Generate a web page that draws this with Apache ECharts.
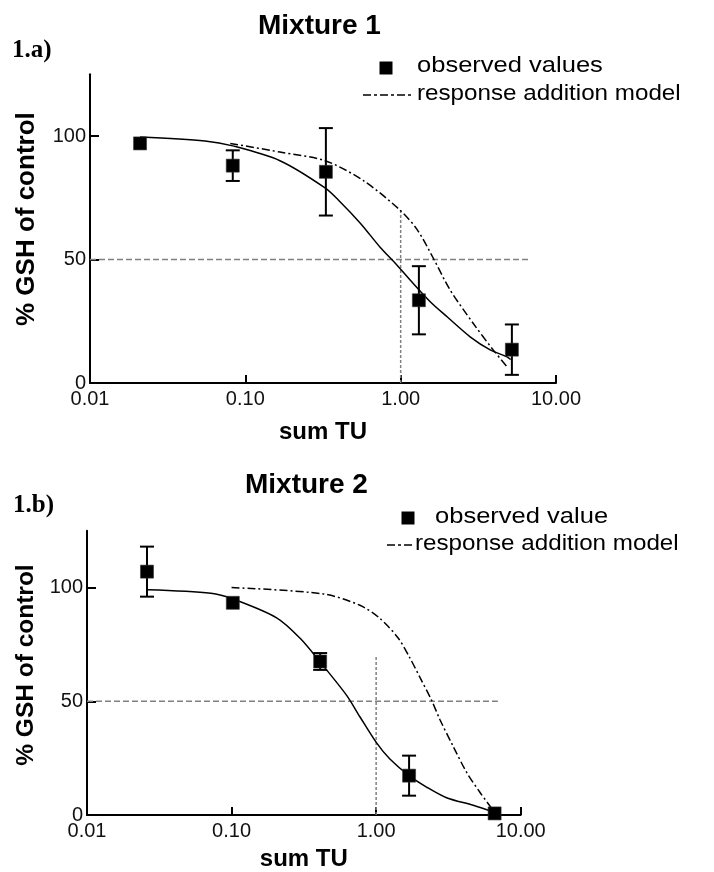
<!DOCTYPE html>
<html>
<head>
<meta charset="utf-8">
<title>GSH response of mixtures</title>
<script src="https://cdn.jsdelivr.net/npm/echarts@6/dist/echarts.min.js"></script>
<style>
  html, body { margin: 0; padding: 0; background: #fff; }
  #chart { width: 714px; height: 872px; }
</style>
</head>
<body>
<div id="chart"></div>
<script>
// ---- tick labels ----
const xTickLabels = ['0.01', '0.10', '1.00', '10.00'];
const yTickValues = [0, 50, 100];

// ---- Mixture 1: observed means with SD ----
const m1Dose = [0.021, 0.083, 0.33, 1.31, 5.2];
const m1Mean = [97, 88, 85.5, 33.5, 13.5];
const m1Sd   = [0, 6.2, 17.7, 13.8, 10.2];

// fitted concentration-response curve (sum TU, % of control)
const m1FitX = [0.021, 0.055, 0.083, 0.167, 0.326, 0.407, 0.548, 0.737, 0.92, 1.15, 1.55, 1.99, 2.8, 3.77, 4.84, 5.1];
const m1FitY = [99.6, 98, 96, 90, 79, 73.4, 64.8, 55, 48.6, 41.7, 32.9, 26.8, 18.7, 13.4, 10.6, 9.5];

// response addition prediction
const m1ModelX = [0.08, 0.167, 0.326, 0.573, 0.99, 1.28, 1.62, 2.08, 2.92, 3.94, 4.84];
const m1ModelY = [97, 93.5, 90, 82, 70, 62, 50.6, 37.7, 24.3, 13.4, 6.6];

// guide lines: 50 % level and sum TU = 1
const m1HalfX = [0.01, 6.7];
const m1HalfY = [50, 50];
const m1UnitX = [1, 1];
const m1UnitY = [0, 70];

// ---- Mixture 2 ----
const m2Dose = [0.026, 0.102, 0.41, 1.69, 6.6];
const m2Mean = [107, 93.3, 67.5, 17.3, 0.7];
const m2Sd   = [11, 0, 3.7, 8.8, 0];

const m2FitX = [0.0263, 0.072, 0.102, 0.205, 0.297, 0.408, 0.625, 0.772, 1.007, 1.245, 1.69, 2.23, 3.07, 4.69, 6.6];
const m2FitY = [99, 97.5, 95, 86.7, 77.8, 67.4, 52.6, 43.2, 31.7, 24.6, 17.3, 12.3, 7.6, 4.3, 1.2];

const m2ModelX = [0.1, 0.43, 0.772, 1.06, 1.42, 1.71, 2.01, 2.42, 2.76, 3.41, 4.23, 5.22, 6.29];
const m2ModelY = [100, 97.2, 92.2, 86.5, 77.8, 69.1, 60.5, 50.4, 42, 30.2, 18.7, 10, 3];

const m2HalfX = [0.01, 6.95];
const m2HalfY = [50, 50];
const m2UnitX = [1, 1];
const m2UnitY = [0, 70];

// ---- helpers ----
const SANS = 'Arial, "Liberation Sans", Helvetica, sans-serif';
const SERIF = '"Times New Roman", "Liberation Serif", serif';
const zip = (xs, ys) => xs.map((x, i) => [x, ys[i]]);

function xAxisFor(gridIndex, nameGap) {
  return {
    type: 'log', logBase: 10, gridIndex, min: 0.01, max: 10,
    name: 'sum TU', nameLocation: 'middle', nameGap,
    nameTextStyle: { fontFamily: SANS, fontWeight: 'bold', fontSize: 24, color: '#000' },
    axisLine: { lineStyle: { color: '#000', width: 2 } },
    axisTick: { inside: true, length: 8, lineStyle: { color: '#000', width: 2 } },
    axisLabel: {
      margin: 6, fontFamily: SANS, fontSize: 20, color: '#111',
      formatter: v => xTickLabels[Math.round(Math.log10(v)) + 2]
    },
    splitLine: { show: false },
    minorTick: { show: false }
  };
}

function yAxisFor(gridIndex, nameGap, fontSize, shiftUp) {
  return {
    type: 'value', gridIndex, min: 0, max: 125, interval: 50,
    name: '% GSH of control', nameLocation: 'middle', nameGap,
    nameTextStyle: {
      fontFamily: SANS, fontWeight: 'bold', fontSize, color: '#000',
      padding: [0, 0, 0, shiftUp * 2]
    },
    axisLine: { lineStyle: { color: '#000', width: 2 } },
    axisTick: { inside: true, length: 9, customValues: yTickValues, lineStyle: { color: '#000', width: 2 } },
    axisLabel: { margin: 4, fontFamily: SANS, fontSize: 20, color: '#111', customValues: yTickValues },
    splitLine: { show: false }
  };
}

function lineSeries(name, idx, xs, ys, style, z, smooth) {
  return {
    name, type: 'line', xAxisIndex: idx, yAxisIndex: idx,
    data: zip(xs, ys), symbol: 'none', showSymbol: false,
    smooth: smooth || false, lineStyle: style, z, silent: true
  };
}

function guideSeries(idx, xs, ys, dash) {
  return lineSeries('', idx, xs, ys, { color: '#808080', width: 1.5, type: dash }, 1);
}

function pointSeries(name, idx, xs, ys) {
  return {
    name, type: 'scatter', xAxisIndex: idx, yAxisIndex: idx,
    data: zip(xs, ys), symbol: 'rect', symbolSize: 13,
    itemStyle: { color: '#000', opacity: 1, borderColor: '#333', borderWidth: 0.6 }, z: 5
  };
}

function errorBarSeries(idx, xs, mean, sd) {
  const rows = [];
  xs.forEach((x, i) => { if (sd[i] > 0) rows.push([x, mean[i] - sd[i], mean[i] + sd[i]]); });
  return {
    type: 'custom', xAxisIndex: idx, yAxisIndex: idx, data: rows,
    encode: { x: 0, y: [1, 2] }, z: 4, silent: true,
    renderItem(params, api) {
      const x = api.value(0);
      const lo = api.coord([x, api.value(1)]);
      const hi = api.coord([x, api.value(2)]);
      const hw = 7;
      const st = { stroke: '#000', lineWidth: 2 };
      return {
        type: 'group',
        children: [
          { type: 'line', shape: { x1: lo[0], y1: lo[1], x2: hi[0], y2: hi[1] }, style: st },
          { type: 'line', shape: { x1: lo[0] - hw, y1: lo[1], x2: lo[0] + hw, y2: lo[1] }, style: st },
          { type: 'line', shape: { x1: hi[0] - hw, y1: hi[1], x2: hi[0] + hw, y2: hi[1] }, style: st }
        ]
      };
    }
  };
}

const fitStyle = { color: '#000', width: 1.5, type: 'solid' };
const modelStyle = { color: '#000', width: 1.5, type: [8, 3, 2, 3] };

// legend block drawn as graphic elements
function legendBlock(sq, obsText, obsX, obsY, dash, modelX, modelY) {
  const font = '22px ' + SANS;
  return [
    { type: 'rect', shape: { x: sq[0] - 6.5, y: sq[1] - 6.5, width: 13, height: 13 }, style: { fill: '#000' } },
    { type: 'text', x: obsX, y: obsY, scaleX: 1.16,
      style: { text: obsText, font, fill: '#000', verticalAlign: 'middle' } },
    { type: 'line', shape: { x1: dash[0], y1: dash[2], x2: dash[1], y2: dash[2] },
      style: { stroke: '#000', lineWidth: 1.5, lineDash: [8, 3, 3, 3] } },
    { type: 'text', x: modelX, y: modelY, scaleX: 1.1,
      style: { text: 'response addition model', font, fill: '#000', verticalAlign: 'middle' } }
  ];
}

const chart = echarts.init(document.getElementById('chart'), null, { renderer: 'canvas' });

chart.setOption({
  animation: false,
  backgroundColor: '#fff',
  title: [
    { text: 'Mixture 1', left: 258, top: 12, padding: 0,
      textStyle: { fontFamily: SANS, fontWeight: 'bold', fontSize: 28, color: '#000' } },
    { text: '1.a)', left: 12, top: 38, padding: 0,
      textStyle: { fontFamily: SERIF, fontWeight: 'bold', fontSize: 25, color: '#000' } },
    { text: 'Mixture 2', left: 245, top: 471, padding: 0,
      textStyle: { fontFamily: SANS, fontWeight: 'bold', fontSize: 28, color: '#000' } },
    { text: '1.b)', left: 13, top: 493, padding: 0,
      textStyle: { fontFamily: SERIF, fontWeight: 'bold', fontSize: 25, color: '#000' } }
  ],
  grid: [
    { left: 90, top: 74.25, width: 466, height: 308.75 },
    { left: 87, top: 530.7, width: 433.7, height: 289.3 }
  ],
  xAxis: [xAxisFor(0, 37), xAxisFor(1, 32)],
  yAxis: [yAxisFor(0, 50, 26, 9.5), yAxisFor(1, 47, 24.5, 7.8)],
  graphic: [
    ...legendBlock([386, 68], 'observed values', 417, 65.7, [363, 414, 95], 417, 94),
    ...legendBlock([408, 518], 'observed value', 435, 517.4, [387, 412, 545], 415, 544)
  ],
  series: [
    guideSeries(0, m1HalfX, m1HalfY, [6, 3]),
    guideSeries(0, m1UnitX, m1UnitY, [3, 2]),
    lineSeries('fitted curve', 0, m1FitX, m1FitY, fitStyle, 2, 0.3),
    lineSeries('response addition model', 0, m1ModelX, m1ModelY, modelStyle, 2, 0.3),
    errorBarSeries(0, m1Dose, m1Mean, m1Sd),
    pointSeries('observed values', 0, m1Dose, m1Mean),

    guideSeries(1, m2HalfX, m2HalfY, [6, 3]),
    guideSeries(1, m2UnitX, m2UnitY, [3, 2]),
    lineSeries('fitted curve', 1, m2FitX, m2FitY, fitStyle, 2, 0.3),
    lineSeries('response addition model', 1, m2ModelX, m2ModelY, modelStyle, 2, 0.3),
    errorBarSeries(1, m2Dose, m2Mean, m2Sd),
    pointSeries('observed value', 1, m2Dose, m2Mean)
  ]
});
</script>
</body>
</html>
